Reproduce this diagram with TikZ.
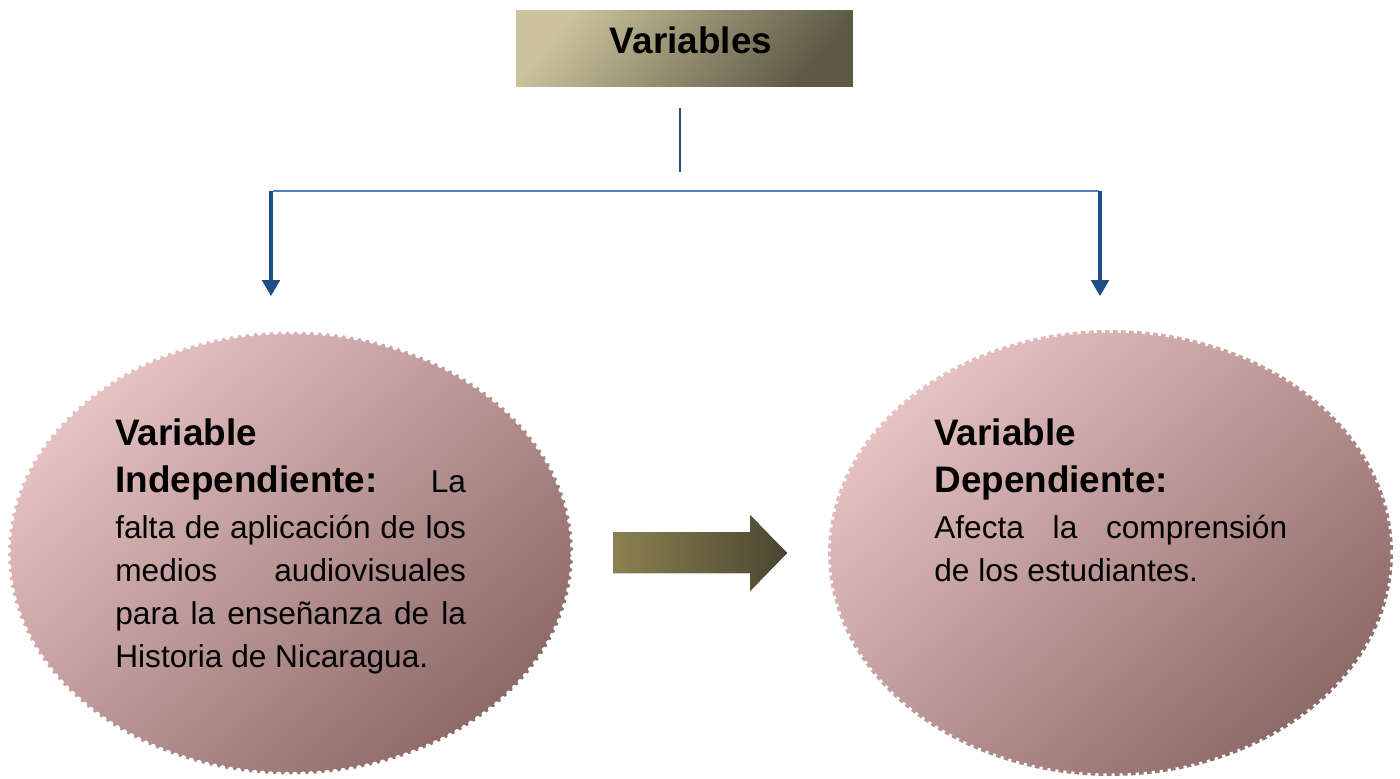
\documentclass[tikz,border=0pt]{standalone}
\usepackage{fontspec}
\setmainfont{Liberation Sans}
\usetikzlibrary{shapes.geometric,arrows.meta}
\definecolor{titlelight}{HTML}{CCC39C}
\definecolor{titledark}{HTML}{5C5A46}
\definecolor{elllight}{HTML}{E6C2C2}
\definecolor{elldark}{HTML}{8C6A68}
\definecolor{arrlight}{HTML}{8B8150}
\definecolor{arrdark}{HTML}{4B4631}
\definecolor{bluedark}{HTML}{1F4E85}
\definecolor{bluelight}{HTML}{4F81BD}
\tikzset{
  varell/.style={ellipse, minimum width=11.3cm, minimum height=8.86cm, inner sep=0pt,
    left color=elllight, right color=elldark, shading angle=42,
    draw=white, line width=3.2pt, dash pattern=on 0pt off 4.6pt, line cap=round},
  headfont/.style={font=\fontsize{21}{26}\selectfont\bfseries},
  bodyfont/.style={font=\fontsize{18}{24}\selectfont},
  txtline/.style={anchor=base west, inner sep=0pt},
  downarrow/.style={draw=bluedark, line width=1.8pt, -{Triangle[width=10pt,length=9pt]}},
}
\newcommand{\jline}[1]{\makebox[199.6pt][s]{#1}}
\begin{document}
\begin{tikzpicture}[x=0.02cm,y=-0.02cm]
\useasboundingbox (0,0) rectangle (1400,778);
% title
\node[rectangle, minimum width=6.74cm, minimum height=1.54cm, inner sep=0pt,
  left color=titlelight, right color=titledark, shading angle=50] (titlebox) at (684.5,48.5) {};
\node[headfont, anchor=base, inner sep=0pt] (title) at (691,53) {Variables};
% connectors
\coordinate (vtop) at (680,108);
\coordinate (vbot) at (680,172);
\coordinate (hl) at (273,191);
\coordinate (hr) at (1099,191);
\coordinate (al) at (271,191);
\coordinate (ar) at (1100,191);
\coordinate (alend) at (271,296);
\coordinate (arend) at (1100,296);
\draw[bluedark, line width=1.2pt] (vtop) -- (vbot);
\draw[bluelight, line width=1.2pt] (hl) -- (hr);
\draw[downarrow] (al) -- (alend);
\draw[downarrow] (ar) -- (arend);
% ellipses
\node[varell] (indep) at (290.5,553) {};
\node[varell, dash pattern=on 1.8pt off 2.8pt, line cap=butt, line width=2.8pt, minimum height=8.92cm] (dep) at (1110.5,553) {};
% middle arrow
\fill[left color=arrlight, right color=arrdark] (613,532) -- (750,532) -- (750,515) -- (787,553) -- (750,591) -- (750,573) -- (613,573) -- cycle;
% left text
\node[txtline, headfont] (l1) at (115,445) {Variable};
\node[txtline] (l2) at (115,492) {\jline{\fontsize{21}{26}\selectfont\bfseries Independiente:\mdseries\fontsize{18}{24}\selectfont{} La}};
\node[txtline, bodyfont] (l3) at (115,538) {\jline{falta de aplicación de los}};
\node[txtline, bodyfont] (l4) at (115,581) {\jline{medios audiovisuales}};
\node[txtline, bodyfont] (l5) at (115,624) {\jline{para la enseñanza de la}};
\node[txtline, bodyfont] (l6) at (115,667) {Historia de Nicaragua.};
% right text
\node[txtline, headfont] (r1) at (934,445) {Variable};
\node[txtline, headfont] (r2) at (934,492) {Dependiente:};
\node[txtline, bodyfont] (r3) at (934,538) {\makebox[200.8pt][s]{Afecta la comprensión}};
\node[txtline, bodyfont] (r4) at (934,581) {de los estudiantes.};
\end{tikzpicture}
\end{document}
